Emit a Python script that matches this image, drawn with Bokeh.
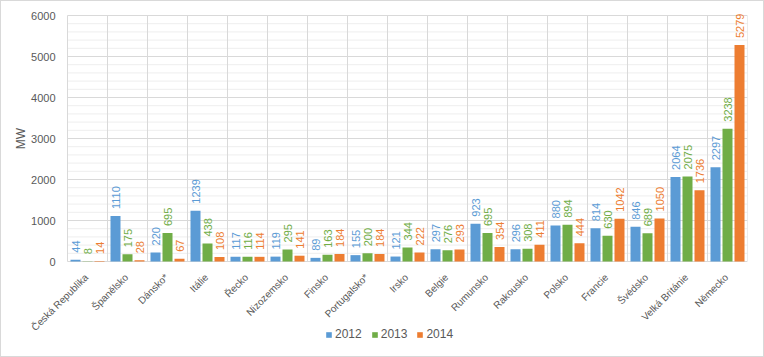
import numpy as np
from bokeh.plotting import figure
from bokeh.models import (ColumnDataSource, Range1d, Legend, LegendItem)
from bokeh.transform import dodge
from bokeh.core.properties import value
from bokeh.embed import file_html
from bokeh.resources import INLINE

countries = ["Česká Republika", "Španělsko", "Dánsko*", "Itálie", "Řecko", "Nizozemsko",
             "Finsko", "Portugalsko*", "Irsko", "Belgie", "Rumunsko", "Rakousko", "Polsko",
             "Francie", "Švédsko", "Velká Británie", "Německo"]
v2012 = [44, 1110, 220, 1239, 117, 119, 89, 155, 121, 297, 923, 296, 880, 814, 846, 2064, 2297]
v2013 = [8, 175, 695, 438, 116, 295, 163, 200, 344, 276, 695, 308, 894, 630, 689, 2075, 3238]
v2014 = [14, 28, 67, 108, 114, 141, 184, 184, 222, 293, 354, 411, 444, 1042, 1050, 1736, 5279]
years = ["2012", "2013", "2014"]
colors = ["#5B9BD5", "#70AD47", "#ED7D31"]
y_ticks = [0, 1000, 2000, 3000, 4000, 5000, 6000]
y_minor_step = 200
y_title = "MW"

n = len(countries)
centers = [i + 0.5 for i in range(n)]
boundaries = list(range(n + 1))
src = ColumnDataSource(dict(x=centers, names=countries,
                            v2012=v2012, v2013=v2013, v2014=v2014,
                            l2012=[str(v) for v in v2012],
                            l2013=[str(v) for v in v2013],
                            l2014=[str(v) for v in v2014]))

FONT = "Liberation Sans"
GRAY = "#595959"
GRID = "#d9d9d9"
MINOR = "#eeeeee"

# layout in pixels
CAT_PX = 40                      # width of one category
LEFT_PX = 66                     # room left of the first category for y labels
PLOT_PX, TOP_PX, BOT_PX = 246, 4, 95
px = PLOT_PX / (y_ticks[-1] - y_ticks[0])
y_lo = y_ticks[0] - BOT_PX / px
y_hi = y_ticks[-1] + TOP_PX / px
x_lo = -LEFT_PX / CAT_PX

p = figure(frame_width=LEFT_PX + n * CAT_PX, frame_height=PLOT_PX + TOP_PX + BOT_PX,
           output_backend="svg", toolbar_location=None,
           x_axis_location=None, y_axis_location=None,
           x_range=Range1d(x_lo, n), y_range=Range1d(y_lo, y_hi),
           min_border_left=0, min_border_right=16, min_border_top=10, min_border_bottom=0)
p.styles = {"border": "1px solid #d9d9d9"}
p.outline_line_color = None
p.background_fill_color = "white"
p.border_fill_color = "white"
p.xgrid.grid_line_color = None
p.ygrid.grid_line_color = None

# horizontal grid (minor then major) across the categories only
minor = [v for v in range(y_ticks[0], y_ticks[-1] + 1, y_minor_step) if v not in y_ticks]
p.segment(x0=[0] * len(minor), y0=minor, x1=[n] * len(minor), y1=minor,
          line_color=MINOR, line_width=1)
p.segment(x0=[0] * len(y_ticks), y0=y_ticks, x1=[n] * len(y_ticks), y1=y_ticks,
          line_color=GRID, line_width=1)
# category separators
p.segment(x0=boundaries, y0=[y_ticks[0]] * len(boundaries),
          x1=boundaries, y1=[y_ticks[-1]] * len(boundaries),
          line_color=GRID, line_width=1)

offsets = [-0.3, 0.0, 0.3]
renderers = []
for yr, col, off in zip(years, colors, offsets):
    r = p.vbar(x=dodge("x", off, range=p.x_range), top="v" + yr, width=0.25, bottom=0,
               source=src, fill_color=col, line_color=None)
    renderers.append(r)
    p.text(x=dodge("x", off, range=p.x_range), y="v" + yr, text="l" + yr, source=src,
           angle=np.pi / 2, text_align="left", text_baseline="middle",
           y_offset=-7, text_color=col, text_font=value(FONT), text_font_size="11px")

# category labels, rotated 45 degrees, ending under each category centre
p.text(x="x", y=y_ticks[0], text="names", source=src, angle=np.pi / 4,
       text_align="right", text_baseline="middle", x_offset=-1, y_offset=14,
       text_color=GRAY, text_font=value(FONT), text_font_size="10px")

# y tick labels and title
p.text(x=[0] * len(y_ticks), y=y_ticks, text=[str(t) for t in y_ticks],
       text_align="right", text_baseline="middle", x_offset=-12,
       text_color=GRAY, text_font=value(FONT), text_font_size="11px")
p.text(x=[0], y=[(y_ticks[0] + y_ticks[-1]) / 2], text=[y_title], angle=np.pi / 2,
       text_align="center", text_baseline="middle", x_offset=-47,
       text_color=GRAY, text_font=value(FONT), text_font_size="12px")

legend = Legend(items=[LegendItem(label=yr, renderers=[r]) for yr, r in zip(years, renderers)],
                orientation="horizontal", location=(258 + LEFT_PX, 15),
                label_text_font=FONT, label_text_font_size="12px", label_text_color=GRAY,
                glyph_width=7, glyph_height=7, label_standoff=3, spacing=9, label_height=12,
                border_line_color=None, background_fill_alpha=0, padding=0, margin=0)
p.add_layout(legend, "center")

open("out.html", "w").write(file_html(p, INLINE))
